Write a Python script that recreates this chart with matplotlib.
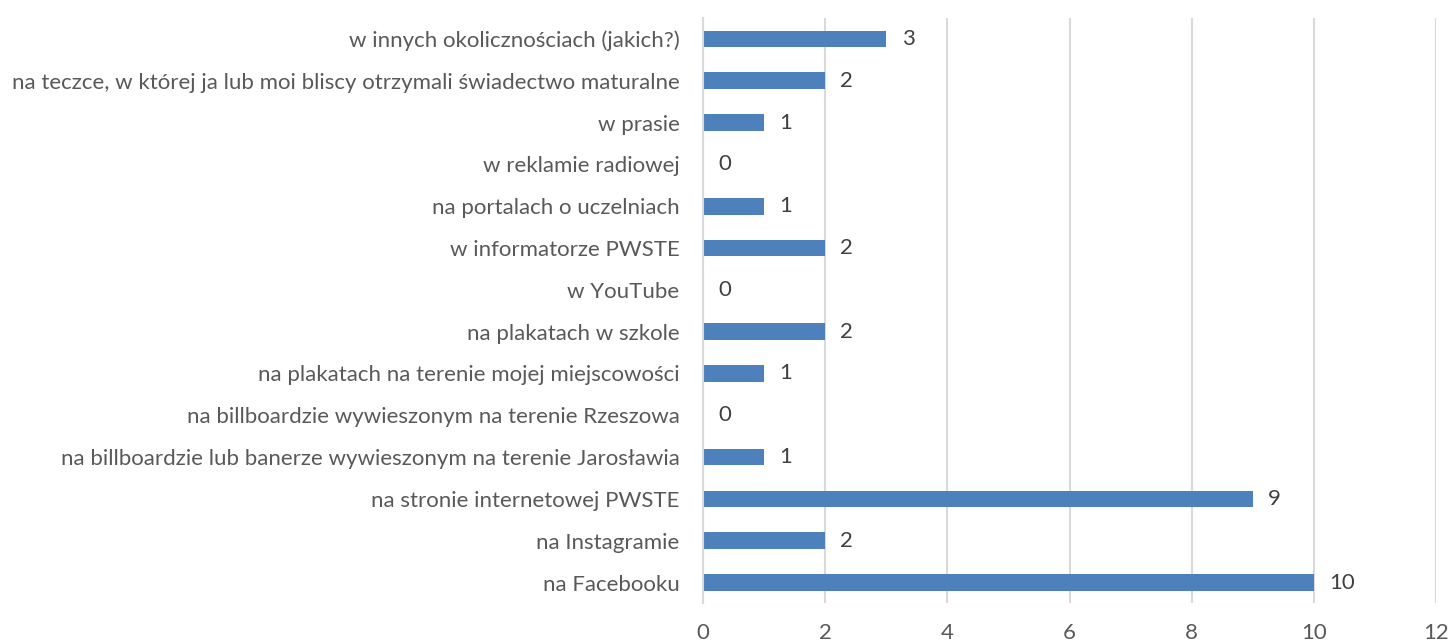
import matplotlib.pyplot as plt

categories = [
    "na Facebooku",
    "na Instagramie",
    "na stronie internetowej PWSTE",
    "na billboardzie lub banerze wywieszonym na terenie Jarosławia",
    "na billboardzie wywieszonym na terenie Rzeszowa",
    "na plakatach na terenie mojej miejscowości",
    "na plakatach w szkole",
    "w YouTube",
    "w informatorze PWSTE",
    "na portalach o uczelniach",
    "w reklamie radiowej",
    "w prasie",
    "na teczce, w której ja lub moi bliscy otrzymali świadectwo maturalne",
    "w innych okolicznościach (jakich?)",
]
values = [10, 2, 9, 1, 0, 1, 2, 0, 2, 1, 0, 1, 2, 3]

plt.rcParams['font.family'] = ['Lato', 'DejaVu Sans']

fig = plt.figure(figsize=(14.51, 6.44), dpi=100)
ax = fig.add_axes([0.4845, 0.063, 0.5052, 0.909])

pos = range(len(categories))
ax.barh(pos, values, height=0.4, color='#4e80bb', zorder=3)
for p, v in zip(pos, values):
    ax.text(v + 0.25, p, str(v), va='center', ha='left', fontsize=16, color='#404040')

ax.set_yticks(list(pos))
ax.set_yticklabels(categories, fontsize=16, color='#595959')
ax.set_ylim(-0.5, len(categories) - 0.5)
ax.set_xlim(0, 12)
ax.set_xticks(range(0, 13, 2))
ax.tick_params(axis='x', labelsize=16, labelcolor='#595959', length=0, pad=14)
ax.tick_params(axis='y', length=0, pad=17)

ax.grid(axis='x', color='#d9d9d9', linewidth=1.5, zorder=0)
for s in ['top', 'right', 'bottom']:
    ax.spines[s].set_visible(False)
ax.spines['left'].set_color('#d9d9d9')
ax.spines['left'].set_linewidth(1.5)
ax.spines['left'].set_zorder(4)

fig.savefig('out.png', dpi=100)
